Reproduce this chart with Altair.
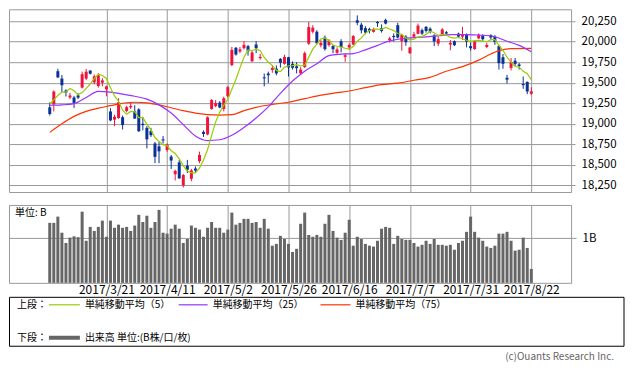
import altair as alt
import pandas as pd

FONT = "Noto Sans CJK JP"
RED = "#f0143c"
BLUE = "#0a3296"
GRID = "#999999"
MA_COLORS = ["#99cc00", "#9933ff", "#ff3300"]
VOL_COLOR = "#666666"

# ---- axis ticks ----
tick_idx = [14, 29, 44, 59, 74, 89, 104, 119]
tick_labels = ["2017/3/21", "2017/4/11", "2017/5/2", "2017/5/26",
               "2017/6/16", "2017/7/7", "2017/7/31", "2017/8/22"]
price_ticks = [18250, 18500, 18750, 19000, 19250, 19500, 19750, 20000, 20250]

# ---- daily OHLC (2017/2/28 .. 2017/8/22) ----
opens = [19200, 19235, 19640, 19550, 19405, 19320, 19320, 19345, 19440, 19550,
         19648, 19505, 19460, 19500, 19420, 19150, 19050, 19070, 19080, 19155,
         19200, 19150, 19175, 19000, 18950, 18910, 18760, 18725, 18810, 18680,
         18600, 18385, 18530, 18250, 18490, 18330, 18455, 18545, 18900, 18870,
         19180, 19215, 19258, 19180, 19335, 19715, 19925, 19880, 19920, 19945,
         19760, 19965, 19800, 19565, 19612, 19655, 19672, 19790, 19730, 19810,
         19730, 19700, 19615, 19690, 19975, 20120, 20121, 19955, 20050, 19957,
         19946, 19865, 20004, 19815, 19930, 19965, 20260, 20207, 20165, 20155,
         20120, 20240, 20165, 20265, 20020, 20070, 20200, 20005, 20060, 19860,
         20060, 20095, 20140, 20180, 20158, 20075, 19975, 20085, 20115, 19965,
         20005, 20098, 20060, 20090, 19945, 19910, 20040, 20073, 19935, 20080,
         20060, 19945, 19810, 19560, 19680, 19768, 19722, 19485, 19510, 19365]
highs = [19260, 19405, 19670, 19594, 19420, 19375, 19340, 19372, 19635, 19668,
         19650, 19600, 19617, 19555, 19465, 19190, 19110, 19310, 19100, 19220,
         19260, 19225, 19190, 19085, 18970, 18950, 18780, 18780, 18850, 18760,
         18620, 18440, 18560, 18390, 18560, 18450, 18480, 18660, 18920, 19090,
         19300, 19290, 19275, 19330, 19460, 19935, 19935, 19935, 20005, 19960,
         19885, 20005, 19850, 19612, 19635, 19715, 19710, 19800, 19840, 19815,
         19760, 19750, 19690, 19880, 20240, 20200, 20140, 20020, 20075, 20030,
         19960, 19930, 20030, 19860, 19980, 20080, 20320, 20230, 20190, 20170,
         20170, 20250, 20210, 20280, 20060, 20100, 20230, 20090, 20080, 19935,
         20120, 20220, 20160, 20190, 20175, 20090, 20060, 20165, 20130, 20020,
         20015, 20110, 20180, 20100, 19990, 20010, 20100, 20090, 19985, 20090,
         20080, 19960, 19850, 19595, 19800, 19800, 19740, 19575, 19515, 19446]
lows = [19100, 19150, 19555, 19385, 19332, 19300, 19192, 19300, 19430, 19530,
        19600, 19480, 19440, 19457, 19335, 19030, 18970, 19060, 18930, 19140,
        19180, 19060, 18900, 18920, 18700, 18840, 18520, 18520, 18760, 18660,
        18450, 18310, 18330, 18224, 18400, 18300, 18400, 18520, 18840, 18860,
        19170, 19200, 19190, 19150, 19320, 19700, 19830, 19860, 19905, 19830,
        19755, 19860, 19780, 19455, 19495, 19620, 19590, 19684, 19720, 19575,
        19660, 19613, 19600, 19680, 19960, 20100, 19975, 19930, 19890, 19940,
        19860, 19850, 19870, 19755, 19900, 19960, 20200, 20100, 20090, 20100,
        20110, 20180, 20110, 20210, 19990, 20000, 20040, 19890, 19950, 19850,
        20040, 20090, 20080, 20110, 20100, 19945, 19945, 20075, 20080, 19895,
        19945, 20050, 20020, 19930, 19890, 19900, 20030, 20010, 19920, 20030,
        19960, 19660, 19670, 19490, 19650, 19700, 19660, 19425, 19360, 19350]
closes = [19119, 19393, 19565, 19469, 19379, 19344, 19254, 19318, 19604, 19634,
          19609, 19577, 19590, 19528, 19455, 19041, 19085, 19262, 18985, 19202,
          19217, 19063, 18909, 18983, 18810, 18861, 18597, 18664, 18797, 18747,
          18552, 18426, 18335, 18375, 18440, 18432, 18430, 18620, 18875, 19079,
          19289, 19252, 19197, 19310, 19445, 19900, 19843, 19905, 19961, 19883,
          19869, 19919, 19814, 19553, 19591, 19678, 19613, 19743, 19813, 19686,
          19682, 19677, 19660, 19860, 20177, 20170, 19980, 19985, 19909, 20013,
          19908, 19905, 19935, 19835, 19960, 20068, 20230, 20138, 20110, 20132,
          20153, 20225, 20130, 20220, 20040, 20055, 20050, 20080, 19994, 19929,
          20090, 20195, 20098, 20130, 20120, 20002, 20030, 20148, 20099, 19985,
          19957, 20062, 20080, 20000, 19920, 20000, 20085, 20029, 19960, 20050,
          19996, 19738, 19730, 19537, 19753, 19729, 19702, 19470, 19393, 19395]
# volume, in billions (B)
volumes = [1.34, 1.34, 1.48, 1.12, 0.89, 1.01, 1.04, 1.02, 1.59, 0.94,
           1.25, 1.16, 1.25, 1.39, 1.03, 1.39, 1.23, 1.30, 1.23, 1.25,
           1.16, 1.28, 1.52, 1.36, 1.50, 1.23, 1.36, 1.63, 1.12, 1.10,
           1.21, 1.30, 1.21, 0.89, 0.98, 1.28, 1.23, 1.19, 1.03, 1.23,
           1.36, 1.23, 1.23, 1.12, 1.19, 1.57, 1.30, 1.34, 1.43, 1.43,
           1.34, 1.36, 1.23, 1.43, 1.21, 0.83, 0.87, 1.05, 0.98, 0.87,
           0.69, 0.76, 1.32, 1.57, 1.07, 1.03, 1.07, 1.03, 1.32, 1.52,
           1.16, 1.01, 0.96, 1.12, 1.41, 0.83, 1.03, 0.98, 0.87, 0.83,
           0.81, 0.94, 1.21, 1.25, 1.23, 0.87, 1.05, 0.98, 0.96, 0.96,
           0.89, 0.81, 0.85, 0.94, 0.87, 0.98, 0.85, 0.85, 0.83, 0.85,
           0.74, 0.89, 0.94, 1.14, 1.48, 1.14, 1.01, 0.94, 0.81, 0.78,
           0.83, 1.10, 1.10, 1.14, 0.94, 0.72, 0.74, 1.01, 0.78, 0.31]

# ---- moving averages ----
ma5_head = [19240, 19290, 19345, 19385]
ma25_idx = [0, 3, 6, 9, 12, 15, 18, 21, 24, 27, 30, 33, 36, 39, 42, 45, 48, 51, 54, 57,
            60, 63, 66, 69, 72, 75, 78, 81, 84, 87, 90, 93, 96, 99, 102, 105, 108, 110,
            113, 116, 119]
ma25_val = [19225, 19230, 19245, 19320, 19395, 19385, 19360, 19335, 19300, 19230,
            19130, 18990, 18850, 18795, 18805, 18860, 18955, 19070, 19205, 19370,
            19520, 19640, 19730, 19830, 19848, 19855, 19900, 19955, 20010, 20035,
            20050, 20058, 20070, 20085, 20085, 20082, 20075, 20060, 20005, 19955, 19878]
ma75_idx = [0, 3, 6, 9, 12, 15, 18, 21, 24, 27, 30, 33, 36, 39, 42, 45, 48, 51, 55, 59,
            63, 67, 71, 74, 78, 82, 86, 90, 94, 98, 102, 106, 109, 111, 114, 119]
ma75_val = [18895, 19000, 19090, 19150, 19190, 19220, 19250, 19262, 19255, 19230,
            19195, 19160, 19130, 19112, 19106, 19110, 19160, 19200, 19235, 19262,
            19305, 19348, 19378, 19399, 19440, 19477, 19495, 19530, 19565, 19640,
            19695, 19775, 19850, 19890, 19915, 19918]

# ---- texts ----
legend_upper = "上段："
legend_lower = "下段："
ma_labels = ["単純移動平均（5）", "単純移動平均（25）", "単純移動平均（75）"]
vol_label = "出来高 単位:(B株/口/枚)"
vol_unit = "単位: B"
copyright_text = "(c)Ouants Research Inc."

n = len(closes)
idx = list(range(n))
ma5 = ma5_head + [sum(closes[k - 4:k + 1]) / 5 for k in range(4, n)]

candles = pd.DataFrame({"i": idx, "open": opens, "high": highs, "low": lows,
                        "close": closes, "vol": volumes})
candles["dir"] = ["up" if c >= o else "down" for o, c in zip(opens, closes)]
ma5_df = pd.DataFrame({"i": idx, "v": ma5})
ma25_df = pd.DataFrame({"i": ma25_idx, "v": ma25_val})
ma75_df = pd.DataFrame({"i": ma75_idx, "v": ma75_val})

W = 563
xscale = alt.Scale(domain=[-8.84, 127.6], nice=False, zero=False)
yscale = alt.Scale(domain=[18169, 20394], nice=False, zero=False)

price_xaxis = alt.Axis(values=tick_idx, labels=False, ticks=False, domain=False,
                       title=None, grid=True)
price_yaxis = alt.Axis(orient="right", values=price_ticks,
                       labelExpr="format(datum.value, ',')", title=None,
                       grid=True, domain=False, tickSize=4, tickColor=GRID,
                       labelPadding=6, labelFontSize=11.5, labelColor="#000",
                       labelFont=FONT)


def px(axis):
    return alt.X("i:Q", scale=xscale, axis=axis)


def py(field):
    return alt.Y(field, scale=yscale, axis=price_yaxis)


color = alt.Color("dir:N", scale=alt.Scale(domain=["up", "down"], range=[RED, BLUE]),
                  legend=None)

wick = alt.Chart(candles).mark_rule(strokeWidth=1).encode(
    x=px(price_xaxis), y=py("low:Q"), y2="high:Q", color=color)
body = alt.Chart(candles).mark_bar(size=3).encode(
    x=px(price_xaxis), y=py("open:Q"), y2="close:Q", color=color)


def ma_line(df, col, interp):
    return alt.Chart(df).mark_line(strokeWidth=1.2, color=col, interpolate=interp).encode(
        x=px(price_xaxis), y=py("v:Q"))


price = alt.layer(
    wick, body,
    ma_line(ma75_df, MA_COLORS[2], "monotone"),
    ma_line(ma25_df, MA_COLORS[1], "monotone"),
    ma_line(ma5_df, MA_COLORS[0], "linear"),
).properties(width=W, height=183)

# ---- volume panel ----
label_expr = "{}[indexof({}, datum.value)]".format(
    "[" + ",".join("'%s'" % t for t in tick_labels) + "]",
    "[" + ",".join(str(t) for t in tick_idx) + "]")
vol_xaxis = alt.Axis(values=tick_idx, labelExpr=label_expr, ticks=False, domain=False,
                     title=None, grid=True, labelPadding=2, labelFontSize=12,
                     labelFont=FONT, labelColor="#000", labelFlush=False)
vol_yaxis = alt.Axis(orient="right", values=[1], labelExpr="'1B'", title=None, grid=True,
                     domain=False, tickSize=5, tickColor=GRID, labelPadding=6,
                     labelFontSize=11.5, labelFont=FONT, labelColor="#000")

vbars = alt.Chart(candles).mark_bar(size=3, color=VOL_COLOR).encode(
    x=px(vol_xaxis),
    y=alt.Y("vol:Q", scale=alt.Scale(domain=[0, 1.74], nice=False), axis=vol_yaxis))


def one():
    return pd.DataFrame({"t": [0]})


def txt(s, x, y, align="left", col="#000", size=10):
    return alt.Chart(pd.DataFrame({"t": [s]})).mark_text(
        align=align, baseline="middle", font=FONT, fontSize=size, color=col).encode(
        x=alt.value(x), y=alt.value(y), text="t:N")


def seg(x1, x2, y, col, w):
    return alt.Chart(one()).mark_rule(color=col, strokeWidth=w).encode(
        x=alt.value(x1), x2=alt.value(x2), y=alt.value(y))


box = alt.Chart(one()).mark_rect(filled=False, stroke="#000", strokeWidth=1).encode(
    x=alt.value(0.5), x2=alt.value(616), y=alt.value(92.5), y2=alt.value(141.5))

R1, R2 = 100, 133
volume = alt.layer(
    vbars,
    txt(vol_unit, 6, 8),
    box,
    txt(legend_upper, 8, R1),
    seg(40, 71, R1, MA_COLORS[0], 1.2), txt(ma_labels[0], 76, R1),
    seg(170, 199, R1, MA_COLORS[1], 1.2), txt(ma_labels[1], 204, R1),
    seg(312, 342, R1, MA_COLORS[2], 1.2), txt(ma_labels[2], 347, R1),
    txt(legend_lower, 8, R2),
    seg(40, 71, R2, VOL_COLOR, 4), txt(vol_label, 76, R2),
    txt(copyright_text, 606, 152, align="right", col="#666666"),
).properties(width=W, height=78)

chart = alt.vconcat(price, volume, spacing=11).properties(padding=0).configure(
    font=FONT).configure_view(stroke=GRID, strokeWidth=1).configure_axis(
    gridColor=GRID, gridWidth=1)

chart.save("out.html", embed_options={"renderer": "svg", "actions": False})
